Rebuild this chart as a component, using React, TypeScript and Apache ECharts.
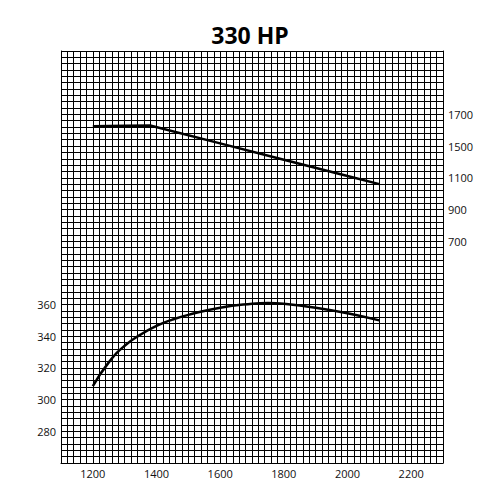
import React, { useEffect, useRef } from "react";
import * as echarts from "echarts";

const titleText = "330 HP";
const xLabels = [1200, 1400, 1600, 1800, 2000, 2200];
const leftLabels = [280, 300, 320, 340, 360];
const rightTickValues = [700, 900, 1100, 1300, 1500];
const rightTickLabels = ["700", "900", "1100", "1500", "1700"];

const hpRpm = [1200, 1250, 1300, 1350, 1400, 1450, 1500, 1600, 1700, 1750, 1800, 1900, 2000, 2100];
const hpValues = [308.5, 323.5, 334, 341, 346.5, 350.5, 353.5, 358, 360.5, 361, 360.5, 358, 354.5, 350];

const torqueRpm = [1200, 1300, 1380, 1600, 1800, 2000, 2100];
const torqueValues = [1425, 1428, 1430, 1317, 1214, 1111, 1060];

export default function App() {
  const ref = useRef<HTMLDivElement>(null);
  useEffect(() => {
    if (!ref.current) return;
    const chart = echarts.init(ref.current, null, { renderer: "svg" });
    const gridLine = { show: true, lineStyle: { color: "#000", width: 1 } };
    const labelFont = { fontFamily: "Open Sans", fontSize: 11, color: "#111" };
    chart.setOption({
      animation: false,
      backgroundColor: "#fff",
      title: {
        text: titleText,
        left: "center",
        top: 18,
        textStyle: { fontFamily: "Open Sans", fontWeight: "bold", fontSize: 23, color: "#000" },
      },
      grid: { left: 61, right: 57, top: 51, bottom: 37 },
      xAxis: {
        type: "value",
        min: 1100,
        max: 2300,
        interval: 20,
        axisLine: { show: true, onZero: false, lineStyle: { color: "#000", width: 1 } },
        axisTick: { show: false },
        splitLine: gridLine,
        axisLabel: {
          ...labelFont,
          margin: 5,
          interval: 0,
          hideOverlap: false,
          formatter: (v: number) => (xLabels.includes(Math.round(v)) ? String(Math.round(v)) : ""),
        },
      },
      yAxis: [
        {
          type: "value",
          min: 260,
          max: 520,
          interval: 4,
          position: "left",
          axisLine: { show: true, onZero: false, lineStyle: { color: "#000", width: 1 } },
          axisTick: { show: false },
          splitLine: gridLine,
          axisLabel: {
            ...labelFont,
            margin: 5,
            interval: 0,
            hideOverlap: false,
            formatter: (v: number) => (leftLabels.includes(Math.round(v)) ? String(Math.round(v)) : ""),
          },
        },
        {
          type: "value",
          min: -700,
          max: 1900,
          interval: 200,
          position: "right",
          axisLine: { show: true, onZero: false, lineStyle: { color: "#000", width: 1 } },
          axisTick: { show: false },
          splitLine: { show: false },
          axisLabel: {
            ...labelFont,
            margin: 5,
            formatter: (v: number) => {
              const i = rightTickValues.indexOf(Math.round(v));
              return i >= 0 ? rightTickLabels[i] : "";
            },
          },
        },
      ],
      series: [
        {
          type: "line",
          yAxisIndex: 0,
          data: hpRpm.map((r, i) => [r, hpValues[i]]),
          smooth: 0.5,
          showSymbol: false,
          lineStyle: { color: "#000", width: 2.5 },
        },
        {
          type: "line",
          yAxisIndex: 1,
          data: torqueRpm.map((r, i) => [r, torqueValues[i]]),
          showSymbol: false,
          lineStyle: { color: "#000", width: 2.5 },
        },
      ],
    });
    return () => chart.dispose();
  }, []);
  return (
    <div
      ref={ref}
      style={{ position: "fixed", left: 0, top: 0, width: 500, height: 500 }}
    />
  );
}
